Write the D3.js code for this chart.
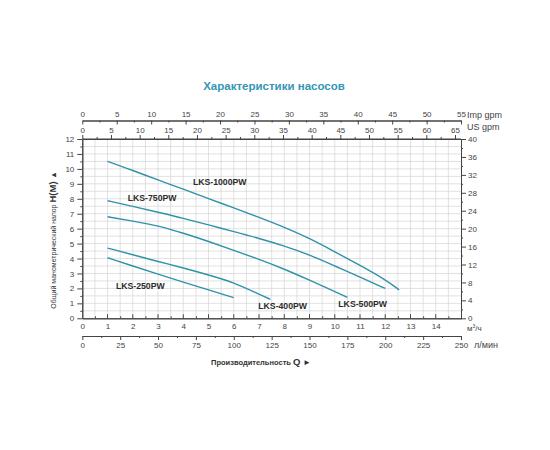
<!DOCTYPE html>
<html>
<head>
<meta charset="utf-8">
<script src="https://cdn.jsdelivr.net/npm/d3@7"></script>
<style>
body{margin:0;background:#fff;}
svg text{font-family:"Liberation Sans",Arial,sans-serif;}
</style>
</head>
<body>
<script>
// напорные характеристики: расход (м3/ч) и напор (м)
var flow1000 = [1, 2, 3, 4, 5, 6, 7, 8, 9, 10, 11, 12, 12.55];
var head1000 = [10.5, 9.9, 9.25, 8.65, 8.0, 7.4, 6.75, 6.1, 5.35, 4.45, 3.55, 2.6, 1.9];
var flow750 = [1, 2, 3, 4, 5, 6, 7, 8, 9, 10, 11, 12];
var head750 = [7.87, 7.5, 7.1, 6.7, 6.25, 5.8, 5.35, 4.85, 4.25, 3.5, 2.75, 2.0];
var flow500 = [1, 2, 3, 4, 5, 6, 7, 8, 9, 10, 10.5];
var head500 = [6.8, 6.5, 6.2, 5.7, 5.15, 4.55, 3.95, 3.3, 2.55, 1.8, 1.4];
var flow400 = [1, 2, 3, 4, 5, 6, 7, 7.45];
var head400 = [4.7, 4.25, 3.8, 3.37, 2.9, 2.4, 1.6, 1.27];
var flow250 = [1, 2, 3, 4, 5, 6];
var head250 = [4.05, 3.5, 2.95, 2.42, 1.9, 1.38];

var models = ["LKS-1000PW", "LKS-750PW", "LKS-500PW", "LKS-400PW", "LKS-250PW"];
var flows = [flow1000, flow750, flow500, flow400, flow250];
var heads = [head1000, head750, head500, head400, head250];
// где стоят подписи (м3/ч, м)
var labelQ = [4.38, 1.8, 10.14, 6.97, 1.33];
var labelH = [8.92, 7.82, 0.75, 0.62, 1.96];

var title = "Характеристики насосов";

var W = 550, H = 450;
var svg = d3.select("body").append("svg").attr("width", W).attr("height", H);

var x = d3.scaleLinear().domain([0, 15]).range([82.3, 461]);
var y = d3.scaleLinear().domain([0, 12]).range([318.3, 139]);
var yFt = d3.scaleLinear().domain([0, 40]).range([318.3, 139]);
var xUS = d3.scaleLinear().domain([0, 15 * 4.4029]).range([82.3, 461]);
var xImp = d3.scaleLinear().domain([0, 15 * 3.6662]).range([82.3, 461]);
var xL = d3.scaleLinear().domain([0, 250]).range([82.3, 461]);

var axisCol = "#444", txtCol = "#444";

// сетка
var g = svg.append("g");
g.selectAll(".vg").data(d3.range(0.5, 15, 0.5)).enter().append("line")
    .attr("x1", d => x(d)).attr("x2", d => x(d))
    .attr("y1", y(0)).attr("y2", y(12))
    .attr("stroke", "#d4d4d4").attr("stroke-width", 0.7);
g.selectAll(".hg").data(d3.range(0.5, 12, 0.5)).enter().append("line")
    .attr("x1", x(0)).attr("x2", x(15))
    .attr("y1", d => y(d)).attr("y2", d => y(d))
    .attr("stroke", "#d4d4d4").attr("stroke-width", 0.7);

function styleAxis(sel, fs) {
    sel.select(".domain").attr("stroke", axisCol).attr("stroke-width", 1);
    sel.selectAll(".tick line").attr("stroke", axisCol);
    sel.selectAll("text").attr("fill", txtCol).style("font-size", fs + "px")
        .style("font-family", "'Liberation Sans',Arial,sans-serif");
}
function addAxis(axis, tx, ty, fs) {
    var a = svg.append("g").attr("transform", "translate(" + tx + "," + ty + ")").call(axis);
    styleAxis(a, fs);
    return a;
}
function minor(axis) { return axis.tickFormat("").tickSizeOuter(0); }

// левая ось H(м)
addAxis(minor(d3.axisLeft(y).tickValues(d3.range(0.5, 12, 1)).tickSize(2)), x(0), 0, 8);
addAxis(d3.axisLeft(y).tickValues(d3.range(0, 13, 1)).tickSize(5).tickPadding(3).tickSizeOuter(0), x(0), 0, 8);
// правая ось (футы)
addAxis(minor(d3.axisRight(yFt).tickValues(d3.range(2, 40, 4)).tickSize(2)), x(15), 0, 8);
addAxis(d3.axisRight(yFt).tickValues(d3.range(0, 41, 4)).tickSize(5).tickPadding(2).tickSizeOuter(0), x(15), 0, 8);
// верх: US gpm
addAxis(minor(d3.axisTop(xUS).tickValues(d3.range(2.5, 66, 5)).tickSize(2)), 0, y(12), 8);
addAxis(d3.axisTop(xUS).tickValues(d3.range(0, 66, 5)).tickSize(4).tickPadding(2).tickSizeOuter(0), 0, y(12), 8);
// верх: Imp gpm
addAxis(minor(d3.axisBottom(xImp).tickValues(d3.range(2.5, 55, 5)).tickSize(2)), 0, 120.5, 8);
var imp = addAxis(d3.axisBottom(xImp).tickValues(d3.range(0, 56, 5)).tickSize(4).tickSizeOuter(0), 0, 120.5, 8);
imp.selectAll("text").attr("y", -9);
// низ: м3/ч
addAxis(minor(d3.axisTop(x).tickValues(d3.range(0.5, 15, 1)).tickSize(2)), 0, y(0), 8);
addAxis(d3.axisBottom(x).tickValues(d3.range(0, 15, 1)).tickSize(0).tickPadding(5).tickSizeOuter(0), 0, y(0), 8);
svg.append("g").attr("transform", "translate(0," + y(0) + ")")
    .selectAll("line").data(d3.range(1, 15, 1)).enter().append("line")
    .attr("x1", d => x(d)).attr("x2", d => x(d)).attr("y1", 0).attr("y2", -4)
    .attr("stroke", axisCol);
// низ: л/мин
addAxis(minor(d3.axisBottom(xL).tickValues(d3.range(12.5, 250, 25)).tickSize(2)), 0, 336, 8);
addAxis(d3.axisBottom(xL).tickValues(d3.range(0, 251, 25)).tickSize(4).tickPadding(2).tickSizeOuter(0), 0, 336, 8);

// рамка верх
svg.append("line").attr("x1", x(0)).attr("x2", x(15)).attr("y1", y(12)).attr("y2", y(12))
    .attr("stroke", axisCol);

// единицы
function unit(t, px, py) {
    svg.append("text").attr("x", px).attr("y", py).text(t)
        .attr("fill", txtCol).style("font-size", "9px");
}
unit("Imp gpm", 467, 118);
unit("US gpm", 467, 130);
unit("л/мин", 474, 348);
svg.append("text").attr("x", 467).attr("y", 331).attr("fill", txtCol).style("font-size", "8px")
    .html("м<tspan dy='-3' style='font-size:5px'>3</tspan><tspan dy='3'>/ч</tspan>");

// кривые
var line = d3.line().x(d => x(d[0])).y(d => y(d[1])).curve(d3.curveBasis);
models.forEach(function (m, i) {
    var pts = d3.zip(flows[i], heads[i]);
    svg.append("path").datum(pts).attr("d", line)
        .attr("fill", "none").attr("stroke", "#2f93a8").attr("stroke-width", 1.4);
    svg.append("text").attr("x", x(labelQ[i])).attr("y", y(labelH[i]))
        .text(m).attr("fill", "#2b2b2b").style("font-size", "8.7px").style("font-weight", "bold");
});

// заголовок
svg.append("text").attr("x", 274).attr("y", 90).attr("text-anchor", "middle")
    .text(title).attr("fill", "#3596b5").style("font-size", "11.5px").style("font-weight", "bold");

// подпись оси Y
var yt = svg.append("text").attr("transform", "translate(56,240) rotate(-90)")
    .attr("text-anchor", "middle").attr("fill", "#333");
yt.append("tspan").text("Общий манометрический напор ").style("font-size", "7px");
yt.append("tspan").text("H(M) ").style("font-size", "9.5px").style("font-weight", "bold");
yt.append("tspan").text("▲").style("font-size", "7.5px");

// подпись оси X
var xt = svg.append("text").attr("x", 261).attr("y", 365)
    .attr("text-anchor", "middle").attr("fill", "#333");
xt.append("tspan").text("Производительность ").style("font-size", "7.5px").style("font-weight", "bold");
xt.append("tspan").text("Q ").style("font-size", "9.5px").style("font-weight", "bold");
xt.append("tspan").text("  ►").style("font-size", "8px");
</script>
</body>
</html>
